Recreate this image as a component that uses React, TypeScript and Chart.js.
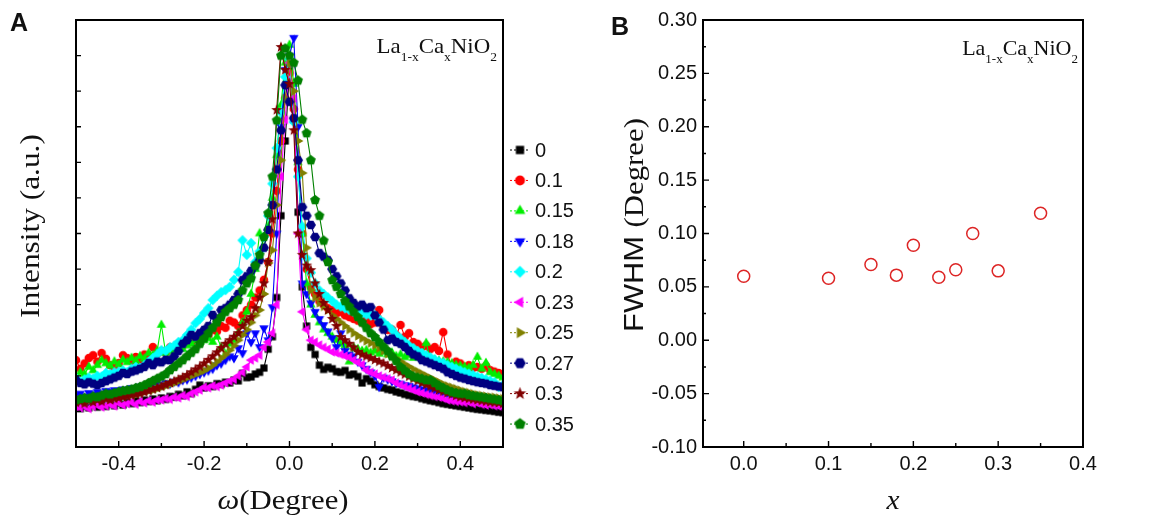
import React, { useEffect, useRef } from "react";
import { Chart, registerables } from "chart.js";

Chart.register(...registerables);

// ---------- Panel A data: rocking curves (omega in degrees, intensity in a.u.) ----------
const OMEGA: number[] = [
  -0.50, -0.49, -0.48, -0.47, -0.46, -0.45, -0.44, -0.43, -0.42, -0.41,
  -0.40, -0.39, -0.38, -0.37, -0.36, -0.35, -0.34, -0.33, -0.32, -0.31,
  -0.30, -0.29, -0.28, -0.27, -0.26, -0.25, -0.24, -0.23, -0.22, -0.21,
  -0.20, -0.19, -0.18, -0.17, -0.16, -0.15, -0.14, -0.13, -0.12, -0.11,
  -0.10, -0.09, -0.08, -0.07, -0.06, -0.05, -0.04, -0.03, -0.02, -0.01,
  0.00,
  0.01, 0.02, 0.03, 0.04, 0.05, 0.06, 0.07, 0.08, 0.09, 0.10,
  0.11, 0.12, 0.13, 0.14, 0.15, 0.16, 0.17, 0.18, 0.19, 0.20,
  0.21, 0.22, 0.23, 0.24, 0.25, 0.26, 0.27, 0.28, 0.29, 0.30,
  0.31, 0.32, 0.33, 0.34, 0.35, 0.36, 0.37, 0.38, 0.39, 0.40,
  0.41, 0.42, 0.43, 0.44, 0.45, 0.46, 0.47, 0.48, 0.49, 0.50,
];

const I_X000: number[] = [
  1.12, 1.08, 1.15, 1.10, 1.18, 1.12, 1.20, 1.14, 1.22, 1.16,
  1.24, 1.18, 1.26, 1.22, 1.30, 1.25, 1.32, 1.28, 1.35, 1.30,
  1.38, 1.34, 1.42, 1.40, 1.48, 1.44, 1.55, 1.50, 1.62, 1.74,
  1.66, 1.72, 1.70, 1.78, 1.76, 1.82, 1.80, 1.88, 1.86, 2.07,
  1.95, 1.97, 2.05, 2.10, 2.22, 2.75, 3.10, 4.20, 6.50, 8.60,
  10.6,
  9.20, 6.60, 4.50, 3.40, 2.80, 2.60, 2.30, 2.18, 2.24, 2.20,
  2.12, 2.10, 2.15, 2.02, 2.05, 1.98, 1.80, 1.92, 1.85, 1.75,
  1.70, 1.66, 1.62, 1.60, 1.55, 1.52, 1.48, 1.45, 1.42, 1.40,
  1.36, 1.33, 1.30, 1.28, 1.25, 1.22, 1.20, 1.18, 1.16, 1.14,
  1.12, 1.10, 1.08, 1.06, 1.05, 1.03, 1.02, 1.00, 0.98, 0.97,
];

const I_X010: number[] = [
  2.44, 2.20, 2.35, 2.50, 2.58, 2.40, 2.64, 2.48, 2.30, 2.22,
  2.36, 2.58, 2.50, 2.42, 2.53, 2.45, 2.60, 2.55, 2.81, 2.62,
  2.70, 2.66, 2.80, 2.75, 2.90, 2.85, 3.00, 2.95, 3.10, 3.05,
  3.23, 3.15, 3.30, 3.25, 3.40, 3.35, 3.55, 3.50, 3.40, 3.70,
  3.85, 4.00, 4.20, 4.40, 4.70, 5.20, 6.00, 7.20, 8.60, 9.80,
  10.5,
  9.50, 7.80, 6.00, 5.00, 4.50, 4.30, 4.10, 4.00, 3.90, 3.85,
  3.75, 3.80, 3.70, 3.65, 3.60, 3.55, 3.50, 3.60, 3.45, 3.50,
  3.85, 3.40, 3.29, 3.30, 3.15, 3.43, 3.10, 3.20, 2.95, 2.90,
  2.80, 2.85, 2.75, 2.81, 2.70, 3.23, 2.60, 2.25, 2.40, 2.35,
  2.25, 2.30, 2.22, 2.25, 2.20, 2.28, 2.16, 2.12, 2.08, 2.05,
];

const I_X015: number[] = [
  1.88, 2.10, 2.05, 2.25, 2.15, 2.30, 2.44, 2.35, 2.28, 2.40,
  2.32, 2.45, 2.38, 2.50, 2.42, 2.55, 2.48, 2.64, 2.58, 2.70,
  3.43, 2.64, 2.72, 2.68, 2.80, 2.75, 2.85, 2.90, 3.00, 2.95,
  3.00, 3.05, 2.95, 3.10, 2.80, 2.60, 2.90, 3.00, 3.20, 3.50,
  3.80, 4.30, 5.00, 6.00, 5.60, 6.20, 7.00, 8.20, 9.60, 10.8,
  11.3,
  10.2, 8.00, 6.00, 4.60, 4.00, 3.71, 3.50, 3.30, 3.20, 3.10,
  3.00, 2.90, 2.85, 2.40, 2.80, 2.75, 2.70, 2.72, 2.65, 2.70,
  2.62, 2.68, 2.60, 2.65, 2.55, 2.60, 2.52, 2.58, 2.50, 2.55,
  2.60, 2.92, 2.48, 2.45, 2.42, 2.40, 2.38, 2.35, 2.30, 2.28,
  2.25, 2.22, 2.30, 2.53, 2.20, 2.36, 2.10, 2.05, 2.00, 1.95,
];

const I_X018: number[] = [
  1.45, 1.50, 1.42, 1.52, 1.48, 1.55, 1.50, 1.58, 1.55, 1.60,
  1.58, 1.62, 1.60, 1.66, 1.64, 1.70, 1.68, 1.72, 1.70, 1.76,
  1.74, 1.80, 1.78, 1.84, 1.82, 1.88, 1.90, 1.95, 2.00, 2.05,
  2.10, 2.15, 2.20, 2.30, 2.35, 2.45, 2.55, 2.50, 2.78, 2.64,
  3.20, 2.95, 3.20, 2.81, 3.34, 3.00, 3.93, 6.00, 9.00, 10.6,
  11.0,
  11.5, 9.00, 4.60, 4.30, 4.04, 3.80, 3.60, 3.43, 3.25, 3.06,
  2.81, 3.20, 2.70, 2.60, 2.55, 2.40, 2.30, 2.20, 2.10, 2.00,
  1.69, 1.95, 1.90, 1.85, 1.80, 1.78, 1.74, 1.72, 1.68, 1.65,
  1.62, 1.60, 1.58, 1.55, 1.52, 1.50, 1.48, 1.46, 1.44, 1.42,
  1.40, 1.38, 1.36, 1.35, 1.33, 1.32, 1.30, 1.28, 1.26, 1.25,
];

const I_X020: number[] = [
  1.94, 1.83, 1.90, 1.95, 1.92, 2.00, 1.98, 2.08, 2.05, 2.10,
  2.12, 2.15, 2.10, 2.20, 2.25, 2.22, 2.30, 2.40, 2.50, 2.60,
  2.72, 2.70, 2.80, 2.85, 2.95, 3.00, 3.15, 3.30, 3.48, 3.60,
  3.76, 3.90, 4.13, 4.25, 4.35, 4.41, 4.50, 4.70, 4.92, 5.81,
  5.40, 5.73, 5.20, 5.50, 5.90, 6.50, 7.40, 8.40, 9.40, 10.4,
  10.9,
  9.13, 7.60, 6.20, 5.30, 4.90, 4.60, 4.40, 4.30, 4.20, 4.10,
  4.00, 3.95, 3.90, 3.85, 3.80, 3.78, 3.75, 3.72, 3.70, 3.70,
  3.60, 3.50, 3.40, 3.30, 3.15, 3.05, 2.95, 2.85, 2.78, 2.70,
  2.64, 2.58, 2.52, 2.46, 2.40, 2.36, 2.30, 2.25, 2.20, 2.15,
  2.10, 2.06, 2.02, 1.98, 1.94, 1.90, 1.86, 1.82, 1.69, 1.74,
];

const I_X023: number[] = [
  1.12, 1.10, 1.15, 1.08, 1.14, 1.18, 1.12, 1.16, 1.20, 1.15,
  1.24, 1.18, 1.22, 1.26, 1.20, 1.28, 1.24, 1.30, 1.26, 1.32,
  1.32, 1.36, 1.34, 1.40, 1.38, 1.45, 1.42, 1.50, 1.55, 1.60,
  1.68, 1.66, 1.72, 1.70, 1.74, 1.80, 1.85, 1.90, 2.00, 2.10,
  2.25, 2.44, 2.50, 2.58, 2.80, 2.95, 3.20, 4.00, 7.60, 9.20,
  10.8,
  9.80, 6.00, 3.80, 3.30, 3.00, 2.95, 2.87, 2.80, 2.75, 2.67,
  2.64, 2.60, 2.56, 2.53, 2.45, 2.38, 2.32, 2.16, 2.10, 2.05,
  2.00, 1.96, 1.92, 1.88, 1.80, 1.75, 1.70, 1.65, 1.60, 1.55,
  1.52, 1.48, 1.45, 1.42, 1.40, 1.37, 1.32, 1.30, 1.28, 1.27,
  1.25, 1.26, 1.22, 1.24, 1.20, 1.18, 1.19, 1.16, 1.15, 1.14,
];

const I_X025: number[] = [
  1.30, 1.32, 1.28, 1.35, 1.33, 1.38, 1.36, 1.40, 1.38, 1.42,
  1.44, 1.46, 1.45, 1.50, 1.48, 1.52, 1.55, 1.58, 1.60, 1.64,
  1.68, 1.72, 1.76, 1.80, 1.85, 1.90, 1.95, 2.00, 2.05, 2.10,
  2.15, 2.22, 2.30, 2.40, 2.50, 2.60, 2.72, 2.85, 3.00, 3.15,
  3.30, 3.50, 3.70, 3.85, 4.30, 5.17, 5.53, 6.80, 8.06, 9.80,
  10.8,
  10.0, 8.60, 7.70, 5.60, 4.41, 4.20, 4.05, 3.95, 3.85, 3.70,
  3.60, 3.50, 3.40, 3.30, 3.20, 3.12, 3.05, 2.98, 2.92, 2.86,
  2.78, 2.70, 2.62, 2.55, 2.48, 2.40, 2.32, 2.25, 2.18, 2.12,
  2.06, 2.00, 1.94, 1.88, 1.82, 1.76, 1.72, 1.68, 1.64, 1.60,
  1.56, 1.53, 1.50, 1.47, 1.45, 1.43, 1.41, 1.40, 1.38, 1.36,
];

const I_X027: number[] = [
  1.88, 1.80, 1.76, 1.82, 1.78, 1.74, 1.80, 1.85, 1.90, 1.95,
  2.00, 2.08, 2.05, 2.12, 2.15, 2.20, 2.25, 2.36, 2.30, 2.40,
  2.38, 2.45, 2.44, 2.55, 2.70, 2.90, 3.00, 3.15, 3.10, 3.20,
  3.29, 3.40, 3.71, 3.60, 3.85, 3.90, 4.00, 4.13, 4.30, 4.69,
  4.80, 4.95, 5.10, 5.25, 5.60, 6.10, 6.80, 7.80, 8.90, 10.17,
  9.70,
  9.24, 8.06, 6.74, 6.50, 6.24, 5.90, 5.45, 5.35, 5.25, 5.00,
  4.80, 4.60, 4.40, 4.18, 4.05, 3.95, 4.00, 3.90, 3.93, 3.70,
  3.50, 3.30, 3.00, 3.05, 2.95, 2.90, 2.81, 2.70, 2.60, 2.55,
  2.44, 2.40, 2.35, 2.30, 2.25, 2.20, 2.10, 2.05, 2.00, 1.95,
  1.92, 1.88, 1.85, 1.82, 1.80, 1.78, 1.74, 1.72, 1.70, 1.68,
];

const I_X030: number[] = [
  1.25, 1.28, 1.22, 1.30, 1.26, 1.32, 1.28, 1.35, 1.32, 1.36,
  1.38, 1.40, 1.42, 1.45, 1.48, 1.50, 1.54, 1.58, 1.62, 1.66,
  1.70, 1.75, 1.80, 1.85, 1.90, 1.96, 2.02, 2.10, 2.18, 2.26,
  2.35, 2.45, 2.55, 2.66, 2.78, 2.90, 3.00, 3.10, 3.20, 3.40,
  3.55, 3.65, 3.90, 4.20, 4.60, 5.20, 6.40, 9.47, 11.24, 10.6,
  10.2,
  8.90, 6.00, 5.40, 5.10, 4.97, 4.60, 4.30, 4.05, 3.85, 3.60,
  3.40, 3.09, 3.00, 2.90, 2.80, 2.67, 2.60, 2.55, 2.50, 2.45,
  2.40, 2.35, 2.28, 2.22, 2.16, 2.10, 2.04, 1.98, 1.92, 1.86,
  1.80, 1.75, 1.70, 1.65, 1.60, 1.56, 1.52, 1.48, 1.44, 1.40,
  1.38, 1.36, 1.34, 1.32, 1.30, 1.28, 1.26, 1.25, 1.24, 1.22,
];

const I_X035: number[] = [
  1.32, 1.35, 1.38, 1.36, 1.42, 1.40, 1.45, 1.50, 1.48, 1.52,
  1.55, 1.58, 1.60, 1.62, 1.66, 1.69, 1.74, 1.80, 1.86, 1.92,
  1.98, 2.05, 2.16, 2.25, 2.35, 2.44, 2.55, 2.65, 2.75, 2.90,
  3.05, 3.20, 3.35, 3.50, 3.65, 3.80, 3.90, 4.00, 4.13, 4.40,
  4.60, 4.74, 5.10, 5.40, 5.90, 6.57, 7.60, 9.18, 11.0, 11.2,
  11.0,
  10.8, 10.3, 9.20, 8.82, 8.06, 6.94, 6.50, 5.80, 5.20, 4.69,
  4.50, 4.30, 4.10, 3.95, 3.80, 3.65, 3.50, 3.35, 3.20, 3.09,
  2.95, 2.82, 2.70, 2.55, 2.42, 2.25, 2.15, 2.05, 1.98, 1.95,
  1.92, 1.88, 1.88, 1.80, 1.72, 1.66, 1.60, 1.55, 1.52, 1.50,
  1.50, 1.46, 1.44, 1.42, 1.40, 1.38, 1.36, 1.34, 1.32, 1.30,
];

const SERIES_LABELS: string[] = ["0", "0.1", "0.15", "0.18", "0.2", "0.23", "0.25", "0.27", "0.3", "0.35"];
const SERIES_VALUES: number[][] = [I_X000, I_X010, I_X015, I_X018, I_X020, I_X023, I_X025, I_X027, I_X030, I_X035];

// ---------- Panel B data: FWHM vs x ----------
const FWHM_X: number[] = [0, 0.1, 0.15, 0.18, 0.2, 0.23, 0.25, 0.27, 0.3, 0.35];
const FWHM_Y: number[] = [0.060, 0.058, 0.071, 0.061, 0.089, 0.059, 0.066, 0.100, 0.065, 0.119];

// ---------- Tick values ----------
const A_X_MAJOR: number[] = [-0.4, -0.2, 0, 0.2, 0.4];
const A_X_MINOR: number[] = [-0.3, -0.1, 0.1, 0.3];
const A_Y_TICKS: number[] = [1, 2, 3, 4, 5, 6, 7, 8, 9, 10, 11];
const B_X_MAJOR: number[] = [0, 0.1, 0.2, 0.3, 0.4];
const B_X_MINOR: number[] = [0.05, 0.15, 0.25, 0.35];
const B_Y_MAJOR: number[] = [-0.1, -0.05, 0, 0.05, 0.1, 0.15, 0.2, 0.25, 0.3];
const B_Y_MINOR: number[] = [-0.075, -0.025, 0.025, 0.075, 0.125, 0.175, 0.225, 0.275];

// ---------- Styles ----------
const SERIES_COLORS = ["#000000", "#ff0000", "#00ee00", "#0000ff", "#00ffff", "#ff00ff", "#808000", "#000080", "#800000", "#008000"];
const SERIES_SHAPES = ["square", "circle", "up", "down", "diamond", "left", "right", "hexagon", "star", "pentagon"];

const SANS = '"Liberation Sans", Arial, sans-serif';
const SERIF = '"Liberation Serif", "Times New Roman", serif';

function regular(g: CanvasRenderingContext2D, n: number, r: number, startDeg: number) {
  for (let k = 0; k < n; k++) {
    const a = ((startDeg + (360 / n) * k) * Math.PI) / 180;
    const x = r * Math.cos(a);
    const y = r * Math.sin(a);
    if (k === 0) g.moveTo(x, y);
    else g.lineTo(x, y);
  }
  g.closePath();
}

function makeMarker(shape: string, color: string, s: number): HTMLCanvasElement {
  const size = Math.ceil(16 * s);
  const c = document.createElement("canvas");
  c.width = size;
  c.height = size;
  const g = c.getContext("2d")!;
  g.translate(size / 2, size / 2);
  g.scale(s, s);
  g.fillStyle = color;
  g.beginPath();
  switch (shape) {
    case "square":
      g.rect(-3.6, -3.6, 7.2, 7.2);
      break;
    case "circle":
      g.arc(0, 0, 4.3, 0, Math.PI * 2);
      break;
    case "up":
      regular(g, 3, 5.4, -90);
      break;
    case "down":
      regular(g, 3, 5.4, 90);
      break;
    case "left":
      regular(g, 3, 5.4, 180);
      break;
    case "right":
      regular(g, 3, 5.4, 0);
      break;
    case "diamond":
      regular(g, 4, 5.2, 0);
      break;
    case "hexagon":
      regular(g, 6, 5.0, 0);
      break;
    case "pentagon":
      regular(g, 5, 5.2, -90);
      break;
    case "star": {
      for (let k = 0; k < 10; k++) {
        const r = k % 2 === 0 ? 5.8 : 2.4;
        const a = ((-90 + 36 * k) * Math.PI) / 180;
        const x = r * Math.cos(a);
        const y = r * Math.sin(a);
        if (k === 0) g.moveTo(x, y);
        else g.lineTo(x, y);
      }
      g.closePath();
      break;
    }
  }
  g.fill();
  return c;
}

type Run = { text: string; font: string; dy?: number };

function drawRuns(ctx: CanvasRenderingContext2D, runs: Run[], cx: number, cy: number, angle: number, stretch: number, align: "center" | "right" = "center") {
  ctx.save();
  ctx.translate(cx, cy);
  ctx.rotate(angle);
  ctx.scale(stretch, 1);
  ctx.textBaseline = "alphabetic";
  ctx.textAlign = "left";
  ctx.fillStyle = "#111";
  let total = 0;
  const widths = runs.map((r) => {
    ctx.font = r.font;
    const w = ctx.measureText(r.text).width;
    total += w;
    return w;
  });
  let x = align === "center" ? -total / 2 : -total;
  runs.forEach((r, i) => {
    ctx.font = r.font;
    ctx.fillText(r.text, x, r.dy || 0);
    x += widths[i];
  });
  ctx.restore();
}

function formulaRuns(size: number): Run[] {
  const main = `${size}px ${SERIF}`;
  const sub = `${Math.round(size * 0.6)}px ${SERIF}`;
  const d = size * 0.36;
  return [
    { text: "La", font: main },
    { text: "1-x", font: sub, dy: d },
    { text: "Ca", font: main },
    { text: "x", font: sub, dy: d },
    { text: "NiO", font: main },
    { text: "2", font: sub, dy: d },
  ];
}

function frameTicks(cfg: {
  xMajor: number[]; xMinor: number[]; yMajor: number[]; yMinor: number[];
  xMajorLen: number; xMinorLen: number; yMajorLen: number; yMinorLen: number;
}) {
  return {
    id: "frameTicks",
    afterDatasetsDraw(chart: any) {
      const { ctx, chartArea: a } = chart;
      const sx = chart.scales.x;
      const sy = chart.scales.y;
      ctx.save();
      ctx.strokeStyle = "#000";
      ctx.lineWidth = 1.4;
      ctx.beginPath();
      const vx = (v: number, len: number) => {
        const p = sx.getPixelForValue(v);
        ctx.moveTo(p, a.bottom);
        ctx.lineTo(p, a.bottom - len);
      };
      const vy = (v: number, len: number) => {
        const p = sy.getPixelForValue(v);
        ctx.moveTo(a.left, p);
        ctx.lineTo(a.left + len, p);
      };
      cfg.xMajor.forEach((v) => vx(v, cfg.xMajorLen));
      cfg.xMinor.forEach((v) => vx(v, cfg.xMinorLen));
      cfg.yMajor.forEach((v) => vy(v, cfg.yMajorLen));
      cfg.yMinor.forEach((v) => vy(v, cfg.yMinorLen));
      ctx.stroke();
      ctx.lineWidth = 2;
      ctx.strokeRect(a.left, a.top, a.right - a.left, a.bottom - a.top);
      ctx.restore();
    },
  };
}

export default function App() {
  const refA = useRef<HTMLCanvasElement>(null);
  const refB = useRef<HTMLCanvasElement>(null);

  useEffect(() => {
    const markers = SERIES_SHAPES.map((s, i) => makeMarker(s, SERIES_COLORS[i], 1));
    const legendMarkers = SERIES_SHAPES.map((s, i) => makeMarker(s, SERIES_COLORS[i], 1.15));

    const datasetsA = SERIES_VALUES.map((vals, i) => ({
      type: "line" as const,
      label: SERIES_LABELS[i],
      data: OMEGA.map((w, k) => ({ x: w, y: vals[k] })),
      borderColor: SERIES_COLORS[i],
      backgroundColor: SERIES_COLORS[i],
      borderWidth: 1.1,
      pointStyle: markers[i] as any,
      pointRadius: 4.5,
      tension: 0,
      fill: false,
      order: SERIES_VALUES.length - i,
    }));

    const decorA = {
      id: "decorA",
      afterDraw(chart: any) {
        const ctx: CanvasRenderingContext2D = chart.ctx;
        const a = chart.chartArea;
        drawRuns(ctx, [{ text: "A", font: `bold 25px ${SANS}` }], 19, 31, 0, 1);
        drawRuns(ctx, formulaRuns(22), a.right - 6, a.top + 33, 0, 1.04, "right");
        drawRuns(ctx, [{ text: "Intensity (a.u.)", font: `28px ${SERIF}` }], 39, 226, -Math.PI / 2, 1.12);
        drawRuns(
          ctx,
          [
            { text: "\u03c9", font: `italic 28px ${SERIF}` },
            { text: "(Degree)", font: `28px ${SERIF}` },
          ],
          283, 509, 0, 1.1
        );
        ctx.save();
        SERIES_LABELS.forEach((lab, i) => {
          const y = 150 + i * 30.45;
          ctx.strokeStyle = SERIES_COLORS[i];
          ctx.lineWidth = 1;
          ctx.setLineDash([2, 2]);
          ctx.beginPath();
          ctx.moveTo(510, y);
          ctx.lineTo(530, y);
          ctx.stroke();
          ctx.setLineDash([]);
          const m = legendMarkers[i];
          ctx.drawImage(m, 520 - m.width / 2, y - m.height / 2);
          ctx.fillStyle = "#111";
          ctx.font = `20px ${SANS}`;
          ctx.textBaseline = "middle";
          ctx.textAlign = "left";
          ctx.fillText(lab, 535, y + 1);
        });
        ctx.restore();
      },
    };

    const chartA = new Chart(refA.current!, {
      type: "line",
      data: { datasets: datasetsA as any },
      options: {
        animation: false,
        responsive: false,
        maintainAspectRatio: false,
        events: [],
        layout: { padding: { top: 20, right: 77, left: 0, bottom: 0 } },
        plugins: { legend: { display: false }, tooltip: { enabled: false } },
        scales: {
          x: {
            type: "linear",
            min: -0.5,
            max: 0.5,
            grid: { display: false, drawTicks: false },
            border: { display: false },
            afterBuildTicks: (s: any) => {
              s.ticks = A_X_MAJOR.map((v) => ({ value: v }));
            },
            afterFit: (s: any) => {
              s.height = 73;
            },
            ticks: {
              autoSkip: false,
              maxRotation: 0,
              padding: 5,
              color: "#111",
              font: { family: SANS, size: 20 },
              callback: (v: any) => Number(v).toFixed(1),
            },
          },
          y: {
            type: "linear",
            min: 0,
            max: 12,
            grid: { display: false, drawTicks: false },
            border: { display: false },
            ticks: { display: false },
            afterFit: (s: any) => {
              s.width = 76;
            },
          },
        },
      },
      plugins: [
        frameTicks({
          xMajor: A_X_MAJOR, xMinor: A_X_MINOR, yMajor: A_Y_TICKS, yMinor: [],
          xMajorLen: 6, xMinorLen: 4, yMajorLen: 5, yMinorLen: 3,
        }),
        decorA,
      ],
    });

    const decorB = {
      id: "decorB",
      afterDraw(chart: any) {
        const ctx: CanvasRenderingContext2D = chart.ctx;
        const a = chart.chartArea;
        drawRuns(ctx, [{ text: "B", font: `bold 25px ${SANS}` }], 40, 35, 0, 1);
        drawRuns(ctx, formulaRuns(22), a.right - 5, a.top + 35, 0, 1.0, "right");
        drawRuns(
          ctx,
          [
            { text: "FWHM ", font: `28px ${SANS}` },
            { text: "(Degree)", font: `28px ${SERIF}` },
          ],
          63, 225, -Math.PI / 2, 1.1
        );
        drawRuns(ctx, [{ text: "x", font: `italic 28px ${SERIF}` }], (a.left + a.right) / 2, 509, 0, 1.05);
      },
    };

    const chartB = new Chart(refB.current!, {
      type: "scatter",
      data: {
        datasets: [
          {
            label: "FWHM",
            data: FWHM_X.map((x, i) => ({ x, y: FWHM_Y[i] })),
            pointStyle: "circle",
            pointRadius: 6,
            pointBorderWidth: 1.5,
            borderColor: "#dd2525",
            backgroundColor: "rgba(0,0,0,0)",
            showLine: false,
          } as any,
        ],
      },
      options: {
        animation: false,
        responsive: false,
        maintainAspectRatio: false,
        events: [],
        layout: { padding: { top: 20, right: 82, left: 0, bottom: 0 } },
        plugins: { legend: { display: false }, tooltip: { enabled: false } },
        scales: {
          x: {
            type: "linear",
            min: -0.048,
            max: 0.4,
            grid: { display: false, drawTicks: false },
            border: { display: false },
            afterBuildTicks: (s: any) => {
              s.ticks = B_X_MAJOR.map((v) => ({ value: v }));
            },
            afterFit: (s: any) => {
              s.height = 73;
            },
            ticks: {
              autoSkip: false,
              maxRotation: 0,
              padding: 5,
              color: "#111",
              font: { family: SANS, size: 20 },
              callback: (v: any) => Number(v).toFixed(1),
            },
          },
          y: {
            type: "linear",
            min: -0.1,
            max: 0.3,
            grid: { display: false, drawTicks: false },
            border: { display: false },
            afterBuildTicks: (s: any) => {
              s.ticks = B_Y_MAJOR.map((v) => ({ value: v }));
            },
            afterFit: (s: any) => {
              s.width = 123;
            },
            ticks: {
              autoSkip: false,
              padding: 6,
              color: "#111",
              font: { family: SANS, size: 20 },
              callback: (v: any) => (Math.abs(Number(v)) < 1e-9 ? 0 : Number(v)).toFixed(2),
            },
          },
        },
      },
      plugins: [
        frameTicks({
          xMajor: B_X_MAJOR, xMinor: B_X_MINOR, yMajor: B_Y_MAJOR, yMinor: B_Y_MINOR,
          xMajorLen: 6, xMinorLen: 4, yMajorLen: 6, yMinorLen: 3,
        }),
        decorB,
      ],
    });

    return () => {
      chartA.destroy();
      chartB.destroy();
    };
  }, []);

  return (
    <div style={{ position: "absolute", left: 0, top: 0, width: 1165, height: 520, background: "#fff" }}>
      <canvas ref={refA} width={580} height={520} style={{ position: "absolute", left: 0, top: 0, width: 580, height: 520 }} />
      <canvas ref={refB} width={585} height={520} style={{ position: "absolute", left: 580, top: 0, width: 585, height: 520 }} />
    </div>
  );
}
